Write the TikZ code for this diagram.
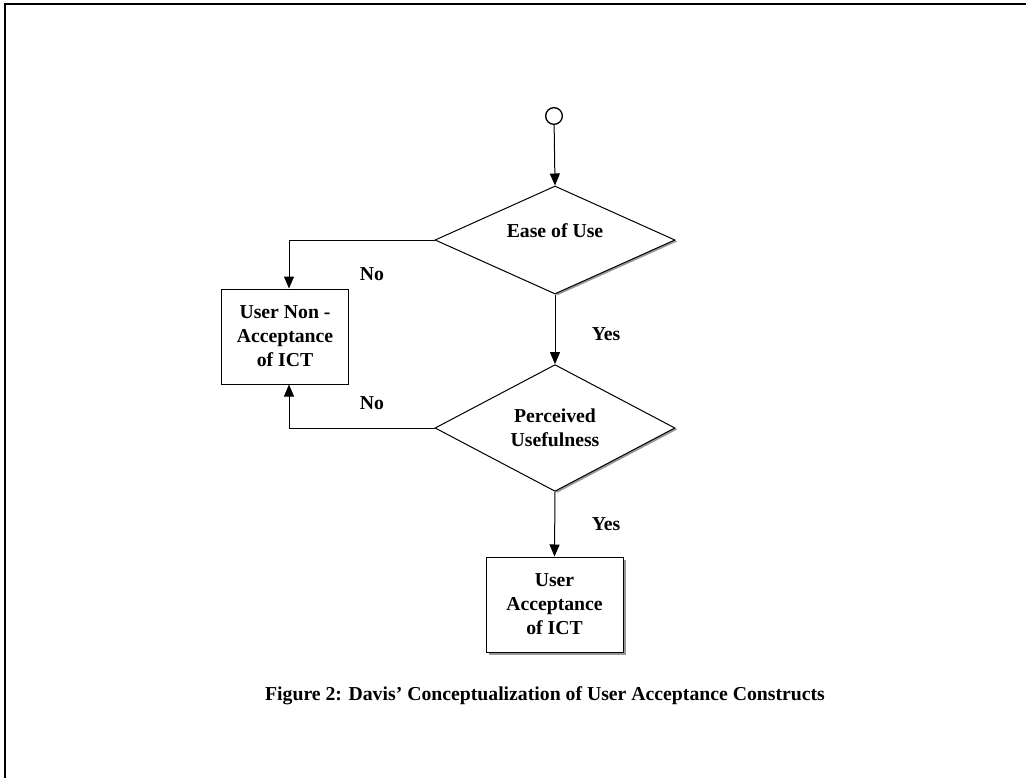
\documentclass[tikz,border=0pt]{standalone}
\usepackage{fontspec}
\setmainfont{Liberation Serif}
\usetikzlibrary{shapes.geometric,arrows.meta,shadows}
\begin{document}
\begin{tikzpicture}[x=0.75pt,y=-0.75pt,
  every node/.style={font=\bfseries\fontsize{14.8pt}{18pt}\selectfont},
  line/.style={line width=0.75pt,black},
  arr/.style={line, -{Triangle[width=7.5pt,length=9pt]}},
  dia/.style={diamond, draw, line width=0.75pt, fill=white, inner sep=0pt,
    minimum width=180pt, minimum height=81pt, align=center,
    drop shadow={shadow xshift=2pt, shadow yshift=-1pt, fill=gray!80, opacity=1}},
  boxa/.style={rectangle, draw, line width=0.75pt, fill=white, align=center,
    minimum width=95.25pt, minimum height=71.25pt, inner sep=0pt},
  boxb/.style={boxa, minimum width=102.75pt,
    drop shadow={shadow xshift=2.6pt, shadow yshift=-2.6pt, fill=gray!80, opacity=1}},
  lbl/.style={inner sep=0pt}
]
\useasboundingbox (0,0) rectangle (1026,778);
\draw[line width=1.5pt] (1026,4) -- (5,4) -- (5,778);

\node[circle, draw, line width=1pt, minimum size=12.5pt, inner sep=0pt] (s) at (554,116) {};
\node[dia] (d1) at (555,240) {};
\node[lbl] (t1) at (555,231) {Ease of Use};
\node[dia] (d2) at (555,428) {Perceived\\Usefulness};
\node[boxa] (b1) at (285,336.5) {User Non -\\Acceptance\\of ICT};
\node[boxb] (b2) at (554.5,604.5) {User\\Acceptance\\of ICT};

\draw[arr] (s) -- (d1.north);
\draw[arr] (d1.south) -- (d2.north);
\draw[arr] (d2.south) -- (b2.north);
\draw[arr] (d1.west) -| ([xshift=3pt]b1.north);
\draw[arr] (d2.west) -| ([xshift=3pt]b1.south);

\node[lbl] (no1) at (372,274) {No};
\node[lbl] (no2) at (372,403) {No};
\node[lbl] (y1) at (606,334) {Yes};
\node[lbl] (y2) at (606,524) {Yes};

\node[lbl] (cap) at (545,696) {Figure 2: Davis’ Conceptualization of User Acceptance Constructs};
\end{tikzpicture}
\end{document}
